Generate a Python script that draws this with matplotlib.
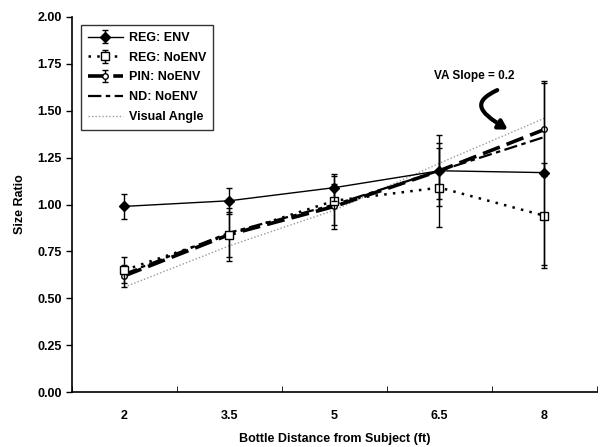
import matplotlib
matplotlib.use("Agg")
import matplotlib.pyplot as plt
import numpy as np
from matplotlib.path import Path
from matplotlib.patches import FancyArrowPatch

plt.rcParams['font.family'] = ['Liberation Sans', 'DejaVu Sans']
plt.rcParams['font.weight'] = 'bold'

categories = ["2", "3.5", "5", "6.5", "8"]
reg_env = [0.99, 1.02, 1.09, 1.18, 1.17]
reg_env_err = [0.065, 0.07, 0.07, 0.19, 0.49]
reg_noenv = [0.65, 0.84, 1.02, 1.09, 0.94]
reg_noenv_err = [0.07, 0.14, 0.13, 0.21, 0.28]
pin_noenv = [0.62, 0.84, 0.99, 1.18, 1.40]
pin_noenv_err = [0.06, 0.12, 0.12, 0.15, 0.25]
nd_noenv = [0.63, 0.85, 1.00, 1.18, 1.36]
visual_angle = [0.56, 0.78, 0.97, 1.22, 1.46]
y_ticks = [0.0, 0.25, 0.5, 0.75, 1.0, 1.25, 1.5, 1.75, 2.0]

fig = plt.figure(figsize=(6.01, 4.47), dpi=100)
ax = fig.add_axes([0.1198, 0.123, 0.8735, 0.839])
x = np.arange(len(categories))

ax.plot(x, visual_angle, linestyle=(0, (1, 1.5)), color='#9a9a9a', lw=1.0, label='Visual Angle', zorder=2)
ax.errorbar(x, pin_noenv, yerr=pin_noenv_err, color='black', lw=2.6, linestyle=(0, (5, 2)),
            marker='o', mfc='white', mec='black', ms=4, elinewidth=1, capsize=2, label='PIN: NoENV', zorder=3)
ax.plot(x, nd_noenv, color='black', lw=1.6, linestyle=(0, (6, 2, 2, 2)), label='ND: NoENV', zorder=3)
ax.errorbar(x, reg_noenv, yerr=reg_noenv_err, color='black', lw=1.8, linestyle=(0, (1, 2.5)),
            marker='s', mfc='white', mec='black', ms=6, elinewidth=1, capsize=2, label='REG: NoENV', zorder=4)
ax.errorbar(x, reg_env, yerr=reg_env_err, color='black', lw=1.0, linestyle='-',
            marker='D', mfc='black', mec='black', ms=5, elinewidth=1, capsize=2, label='REG: ENV', zorder=5)

ax.set_xlim(-0.5, len(categories) - 0.5)
ax.set_ylim(0, 2.0)
ax.set_yticks(y_ticks)
ax.set_yticklabels([f"{v:.2f}" for v in y_ticks], fontsize=9, fontweight='bold')
ax.set_xticks(x)
ax.set_xticklabels(categories, fontsize=9, fontweight='bold')
ax.set_xticks(np.arange(-0.5, len(categories), 1.0), minor=True)
ax.tick_params(axis='x', which='major', length=0, pad=13)
ax.tick_params(axis='x', which='minor', length=4, direction='in')
ax.tick_params(axis='y', length=4, direction='out', width=1)

for s in ['top', 'right']:
    ax.spines[s].set_visible(False)
ax.spines['left'].set_linewidth(1.2)
ax.spines['bottom'].set_linewidth(1.2)

ax.set_xlabel('Bottle Distance from Subject (ft)', fontsize=9, fontweight='bold', labelpad=8)
ax.set_ylabel('Size Ratio', fontsize=9, fontweight='bold', labelpad=8)

handles, labels = ax.get_legend_handles_labels()
order = ['REG: ENV', 'REG: NoENV', 'PIN: NoENV', 'ND: NoENV', 'Visual Angle']
hl = dict(zip(labels, handles))
leg = ax.legend([hl[k] for k in order], order, loc='upper left', bbox_to_anchor=(0.005, 0.995),
                fontsize=9, frameon=True, fancybox=False, edgecolor='black', handlelength=2.8,
                borderpad=0.55, labelspacing=0.62, handletextpad=0.5)
leg.get_frame().set_linewidth(1.0)
for t in leg.get_texts():
    t.set_fontweight('bold')

ax.text(0.766, 0.843, 'VA Slope = 0.2', transform=ax.transAxes, ha='center', va='center',
        fontsize=8.5, fontweight='bold')
verts = [(0.810, 0.805), (0.765, 0.775), (0.770, 0.750), (0.830, 0.700)]
codes = [Path.MOVETO, Path.CURVE4, Path.CURVE4, Path.CURVE4]
arrow = FancyArrowPatch(path=Path(verts, codes), transform=ax.transAxes,
                        arrowstyle='-|>,head_length=5,head_width=3', lw=3, color='black')
ax.add_patch(arrow)

fig.savefig('out.png', dpi=100)
